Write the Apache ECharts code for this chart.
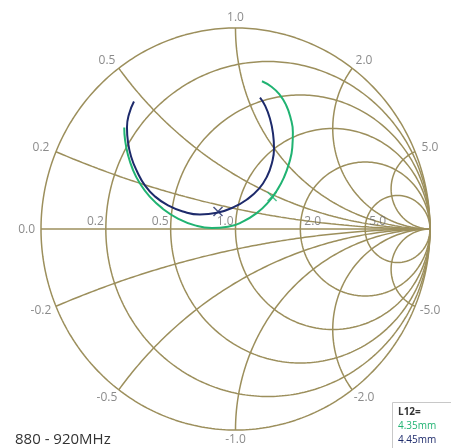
<!DOCTYPE html>
<html>
<head>
<meta charset="utf-8">
<script src="https://cdn.jsdelivr.net/npm/echarts@6/dist/echarts.min.js"></script>
<style>
  html, body { margin: 0; padding: 0; background: #ffffff; }
  #chart { width: 451px; height: 448px; }
</style>
</head>
<body>
<div id="chart"></div>
<script>
// Smith chart grid values (normalized impedance)
const resistanceTicks = [0.2, 0.5, 1.0, 2.0, 5.0];
const reactanceTicks = [0.2, 0.5, 1.0, 2.0, 5.0, -0.2, -0.5, -1.0, -2.0, -5.0];

// S11 (reflection coefficient, real / imaginary) over 880 - 920 MHz, L12 = 4.35 mm
const s11Re_435 = [-0.572, -0.568, -0.554, -0.528, -0.491, -0.441, -0.374, -0.296, -0.208, -0.121, -0.039, 0.035, 0.109, 0.169, 0.215, 0.248, 0.276, 0.292, 0.295, 0.283, 0.260, 0.225, 0.183, 0.136];
const s11Im_435 = [0.505, 0.445, 0.373, 0.296, 0.226, 0.161, 0.101, 0.052, 0.018, 0.005, 0.011, 0.035, 0.079, 0.134, 0.195, 0.254, 0.329, 0.405, 0.480, 0.554, 0.617, 0.671, 0.709, 0.735];

// S11 over 880 - 920 MHz, L12 = 4.45 mm
const s11Re_445 = [-0.522, -0.548, -0.558, -0.553, -0.537, -0.506, -0.465, -0.414, -0.347, -0.270, -0.183, -0.090, -0.013, 0.059, 0.121, 0.162, 0.188, 0.198, 0.193, 0.177, 0.152, 0.126];
const s11Im_445 = [0.634, 0.570, 0.505, 0.435, 0.361, 0.286, 0.216, 0.162, 0.117, 0.087, 0.072, 0.082, 0.107, 0.147, 0.201, 0.261, 0.331, 0.400, 0.475, 0.550, 0.614, 0.654];

// Marker points (centre frequency)
const marker435 = [0.188, 0.162];
const marker445 = [-0.090, 0.087];

const legendTitle = 'L12=';
const legendNames = ['4.35mm', '4.45mm'];
const bandLabel = '880 - 920MHz';

const GRID_COLOR = '#9c8f5c';
const LABEL_COLOR = '#6e6e6e';
const COLOR_435 = '#20b372';
const COLOR_445 = '#1d2a6b';
const FONT = '"Open Sans", "Noto Sans", sans-serif';

// reflection coefficient of normalized impedance r + jx
function gamma(r, x) {
  const d = (r + 1) * (r + 1) + x * x;
  return [(r * r - 1 + x * x) / d, (2 * x) / d];
}

function resistanceCircle(r) {
  const c = r / (r + 1), rad = 1 / (r + 1), pts = [];
  for (let k = 0; k <= 360; k++) {
    const a = k * Math.PI / 180;
    pts.push([c + rad * Math.cos(a), rad * Math.sin(a)]);
  }
  return pts;
}

function reactanceArc(x) {
  const pts = [], n = 300;
  for (let k = 0; k < n; k++) {
    const r = Math.tan((k / n) * Math.PI / 2);
    pts.push(gamma(r, x));
  }
  pts.push([1, 0]);
  return pts;
}

function gridLine(data) {
  return {
    type: 'line', data, showSymbol: false, symbol: 'none', silent: true,
    clip: false, animation: false, z: 1,
    lineStyle: { color: GRID_COLOR, width: 1.5 }
  };
}

const series = [];
series.push(gridLine(resistanceCircle(0)));
resistanceTicks.forEach(r => series.push(gridLine(resistanceCircle(r))));
reactanceTicks.forEach(x => series.push(gridLine(reactanceArc(x))));
series.push(gridLine([[-1, 0], [1, 0]]));

// tick labels
const labelStyle = { color: LABEL_COLOR, fontSize: 12, fontFamily: FONT };
const tickLabels = [];
tickLabels.push({
  value: [-1, 0],
  label: Object.assign({ show: true, formatter: '0.0', position: 'left', distance: 6, offset: [0, 1] }, labelStyle)
});
resistanceTicks.forEach(r => {
  const g = gamma(r, 0);
  tickLabels.push({
    value: [g[0], 0],
    label: Object.assign({
      show: true, formatter: r.toFixed(1),
      position: r <= 1 ? 'left' : 'right', distance: r <= 1 ? 2 : 4, offset: [0, -7]
    }, labelStyle)
  });
});
reactanceTicks.forEach(x => {
  const g = gamma(0, x);
  tickLabels.push({
    value: [g[0] * 1.05, g[1] * 1.05],
    label: Object.assign({
      show: true, formatter: x.toFixed(1), position: 'inside',
      offset: [Math.abs(g[0]) < 0.01 ? 0 : Math.sign(g[0]) * 6, 0]
    }, labelStyle)
  });
});
series.push({
  type: 'scatter', data: tickLabels, symbolSize: 0, silent: true,
  clip: false, animation: false, z: 2
});

function zip(re, im) { return re.map((v, i) => [v, im[i]]); }

series.push({
  type: 'line', name: legendNames[0], data: zip(s11Re_435, s11Im_435),
  smooth: 0.5, showSymbol: false, symbol: 'none', clip: false, animation: false, z: 5,
  lineStyle: { color: COLOR_435, width: 2 }
});
series.push({
  type: 'line', name: legendNames[1], data: zip(s11Re_445, s11Im_445),
  smooth: 0.5, showSymbol: false, symbol: 'none', clip: false, animation: false, z: 6,
  lineStyle: { color: COLOR_445, width: 2 }
});

const crossPath = 'path://M0,0L10,10M10,0L0,10';
series.push({
  type: 'scatter', data: [marker435], symbol: crossPath, symbolSize: 9,
  clip: false, animation: false, z: 7, silent: true,
  itemStyle: { color: 'rgba(0,0,0,0)', borderColor: COLOR_435, borderWidth: 1.5 }
});
series.push({
  type: 'scatter', data: [marker445], symbol: crossPath, symbolSize: 9,
  clip: false, animation: false, z: 7, silent: true,
  itemStyle: { color: 'rgba(0,0,0,0)', borderColor: COLOR_445, borderWidth: 1.5 }
});

const chart = echarts.init(document.getElementById('chart'), null, { renderer: 'canvas' });
chart.setOption({
  backgroundColor: '#ffffff',
  animation: false,
  grid: { left: 41, right: 21, top: 28, bottom: 18, containLabel: false },
  xAxis: { type: 'value', min: -1, max: 1, show: false },
  yAxis: { type: 'value', min: -1, max: 1, show: false },
  series,
  graphic: [
    {
      type: 'rect', left: 392, top: 402, z: 10,
      shape: { width: 70, height: 60 },
      style: { fill: '#ffffff', stroke: '#c8c8c8', lineWidth: 1 }
    },
    {
      type: 'text', left: 398, top: 407, z: 11,
      style: { text: legendTitle, fill: '#333333', fontSize: 10, fontFamily: FONT, fontWeight: 'bold' }
    },
    {
      type: 'text', left: 398, top: 421, z: 11,
      style: { text: legendNames[0], fill: COLOR_435, fontSize: 10, fontFamily: FONT }
    },
    {
      type: 'text', left: 398, top: 435, z: 11,
      style: { text: legendNames[1], fill: COLOR_445, fontSize: 10, fontFamily: FONT }
    },
    {
      type: 'text', left: 15, top: 432, z: 11,
      style: { text: bandLabel, fill: '#333333', fontSize: 15, fontFamily: FONT }
    }
  ]
});
</script>
</body>
</html>
